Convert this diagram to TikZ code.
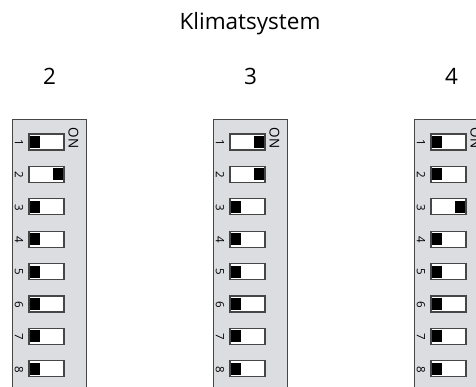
\documentclass[tikz,border=0pt]{standalone}
\usepackage{fontspec}
\setmainfont{Open Sans}
\usepackage{xcolor}
\usepackage{tikz}
\usetikzlibrary{calc, positioning}

\definecolor{panelgray}{RGB}{220,221,224}
\definecolor{rimgray}{RGB}{70,70,70}

\begin{document}
\begin{tikzpicture}[x=1pt,y=-1pt,
                    panel/.style={draw=rimgray,fill=panelgray,line width=1pt},
                    switch box/.style={draw=rimgray,fill=white,line width=1.2pt,minimum width=35pt,minimum height=16pt,inner sep=0pt},
                    knob/.style={fill=black,minimum width=10pt,minimum height=12pt,inner sep=0pt},
                    head/.style={font=\fontsize{22.5}{24}\selectfont,inner sep=0pt},
                    pin num/.style={font=\fontsize{11.5}{13}\selectfont,rotate=-90,inner sep=0pt},
                    on label/.style={font=\fontsize{13.5}{14}\selectfont,rotate=-90,inner sep=0pt}]

  \useasboundingbox (0,0) rectangle (476,386);
  \clip (0,0) rectangle (476,386);

  \node[head] (title) at (250,24) {Klimatsystem};

  % one dip switch block per climate system
  \foreach \px/\lab/\states in {12/2/{0,1,0,0,0,0,0,0}, 213/3/{1,1,0,0,0,0,0,0}, 414/4/{0,0,1,0,0,0,0,0}} {
    \draw[panel] (\px,119) rectangle ++(74,280);
    \node[head] (lab\lab) at (\px+37.5,76) {\lab};
    \node[on label] (on\lab) at (\px+61.5,138) {ON};
    \foreach \s [count=\i] in \states {
      \node[switch box] (sw\lab\i) at (\px+34.5,{142+32.4*(\i-1)}) {};
      \node[pin num] (num\lab\i) at (\px+7,{142.5+32.4*(\i-1)}) {\i};
      \ifnum\s=1
        \node[knob,anchor=east] (kn\lab\i) at ([xshift=-1.6pt]sw\lab\i.east) {};
      \else
        \node[knob,anchor=west] (kn\lab\i) at ([xshift=1.6pt]sw\lab\i.west) {};
      \fi
    }
  }
\end{tikzpicture}
\end{document}
